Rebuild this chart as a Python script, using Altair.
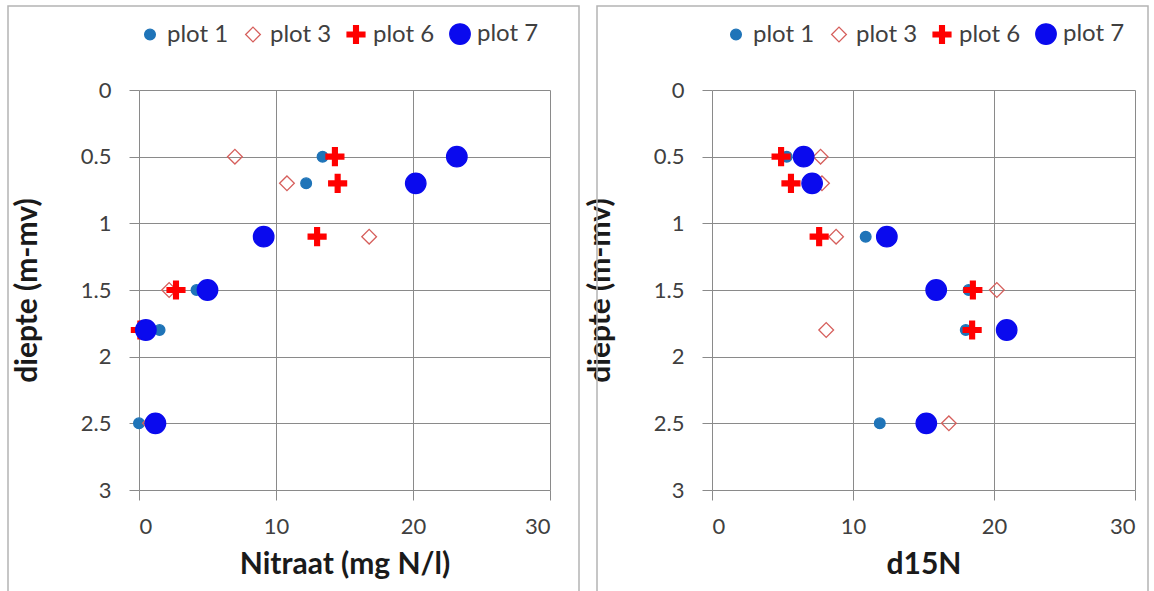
import altair as alt
import pandas as pd

depths = [0.5, 0.7, 1.1, 1.5, 1.8, 2.5]
series = ["plot 1", "plot 3", "plot 6", "plot 7"]

nitraat = {
    "plot 1": [13.4, 12.2, None, 4.2, 1.5, 0.0],
    "plot 3": [7.0, 10.8, 16.8, 2.2, 0.2, 0.8],
    "plot 6": [14.3, 14.5, 13.0, 2.7, 0.1, None],
    "plot 7": [23.2, 20.2, 9.1, 5.0, 0.5, 1.2],
}
d15n = {
    "plot 1": [5.3, None, 10.9, 18.2, 18.0, 11.9],
    "plot 3": [7.7, 7.8, 8.8, 20.2, 8.1, 16.8],
    "plot 6": [4.9, 5.6, 7.6, 18.5, 18.45, None],
    "plot 7": [6.5, 7.1, 12.4, 15.9, 20.9, 15.2],
}

x_ticks = [0, 10, 20, 30]
y_ticks = [0, 0.5, 1, 1.5, 2, 2.5, 3]

PLUS = "M-1,-0.27H1V0.27H-1Z M-0.27,-1H0.27V1H-0.27Z"
shapes = ["circle", "diamond", PLUS, "circle"]
sizes = [115, 420, 300, 330]
fills = ["#1F74B8", "transparent", "#FF0000", "#0A0AEE"]
strokes = ["#1F74B8", "#D65F5C", "#FF0000", "#0A0AEE"]

FONT = "Lato"


def make_df(d):
    rows = []
    for s in series:
        for dep, v in zip(depths, d[s]):
            if v is not None:
                rows.append({"plot": s, "diepte": dep, "waarde": v})
    return pd.DataFrame(rows)


def panel(d, xtitle, width, frame, legend_x):
    df = make_df(d)
    order = {s: i for i, s in enumerate(series)}
    df["ord"] = df["plot"].map(order)
    legend = alt.Legend(
        title=None, orient="none", direction="horizontal",
        legendX=legend_x, legendY=-68, labelFont=FONT, labelFontSize=24,
        labelColor="#404040", columnPadding=12, labelOffset=5,
        symbolStrokeWidth=1.3,
    )
    pts = alt.Chart(df).mark_point(strokeWidth=1.3, opacity=1).encode(
        x=alt.X("waarde:Q", title=xtitle,
                scale=alt.Scale(domain=[0, 30], nice=False, zero=False),
                axis=alt.Axis(values=x_ticks, labelExpr="toString(datum.value)")),
        y=alt.Y("diepte:Q", title="diepte (m-mv)",
                scale=alt.Scale(domain=[0, 3], reverse=True, nice=False),
                axis=alt.Axis(values=y_ticks, labelExpr="toString(datum.value)")),
        shape=alt.Shape("plot:N", scale=alt.Scale(domain=series, range=shapes), legend=legend),
        size=alt.Size("plot:N", scale=alt.Scale(domain=series, range=sizes), legend=legend),
        fill=alt.Fill("plot:N", scale=alt.Scale(domain=series, range=fills), legend=legend),
        stroke=alt.Stroke("plot:N", scale=alt.Scale(domain=series, range=strokes), legend=legend),
        order=alt.Order("ord:Q"),
    )
    fx0, fx1, fy0, fy1 = frame
    box = alt.Chart(alt.Data(values=[{"a": 1}])).mark_rect(
        fill=None, stroke="#B4B4B4", strokeWidth=1.5
    ).encode(x=alt.value(fx0), x2=alt.value(fx1), y=alt.value(fy0), y2=alt.value(fy1))
    return alt.layer(box, pts).properties(width=width, height=400).resolve_scale(
        shape="independent", size="independent", fill="independent", stroke="independent"
    )


left = panel(nitraat, "Nitraat (mg N/l)", 411, (-131, 440, -84, 505), -1)
right = panel(d15n, "d15N", 423, (-115, 436, -84, 505), 12)

chart = alt.hconcat(left, right, spacing=5).resolve_scale(
    shape="independent", size="independent", fill="independent", stroke="independent"
).properties(
    padding={"left": 7, "top": 5, "right": 0, "bottom": 0},
    background="white",
).configure_view(strokeWidth=0).configure_axis(
    grid=True, gridColor="#8A8A8A", gridWidth=1, domain=False,
    tickColor="#8A8A8A", tickSize=10,
    labelFont=FONT, labelFontSize=22, labelColor="#404040",
    titleFont=FONT, titleFontSize=30, titleFontWeight="bold", titleColor="#1A1A1A",
).configure_axisY(labelPadding=18, titlePadding=38).configure_axisX(
    labelPadding=16, titlePadding=12
)

chart.save("out.html", embed_options={"renderer": "svg", "actions": False})
